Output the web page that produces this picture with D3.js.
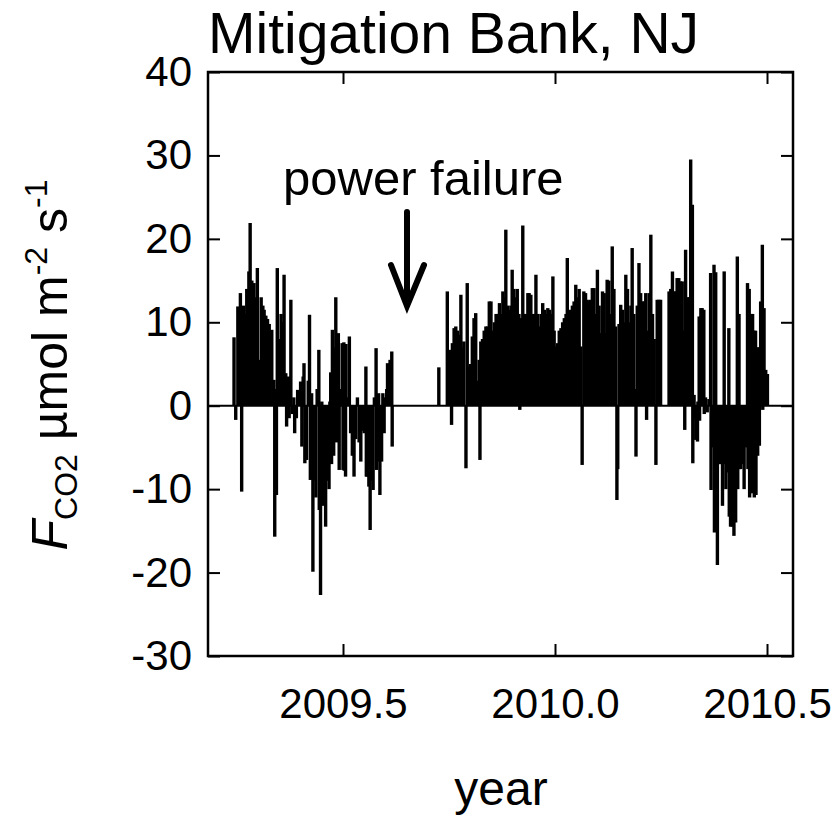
<!DOCTYPE html>
<html>
<head>
<meta charset="utf-8">
<script src="https://cdn.jsdelivr.net/npm/d3@7"></script>
<style>
  body { margin: 0; background: #fff; }
  svg text { font-family: "Liberation Sans", Arial, sans-serif; fill: #000; }
</style>
</head>
<body>
<svg id="chart" width="834" height="820"></svg>
<script>
// daily net CO2 flux, [decimal year, umol m-2 s-1]
var spring2009 = [
  [2009.243, 8.2], [2009.247, -1.7], [2009.252, 11.9], [2009.258, 13.5], [2009.261, -10.3],
  [2009.265, 12], [2009.269, 11], [2009.273, 14], [2009.278, 16.1], [2009.281, 21.9],
  [2009.285, 15], [2009.290, 14.7], [2009.294, 13], [2009.298, 16.5], [2009.303, 5.5],
  [2009.307, 13], [2009.311, 12], [2009.314, 11.5], [2009.318, 10.8], [2009.322, 10.4],
  [2009.326, 9.8], [2009.332, 9.1], [2009.337, 3.1], [2009.339, -15.7], [2009.342, 2],
  [2009.343, -10.7], [2009.345, 16.5], [2009.350, 8], [2009.354, 11], [2009.357, 10],
  [2009.361, 15.7], [2009.365, 3.9], [2009.367, -2.5], [2009.371, 3.5], [2009.373, -1.5],
  [2009.377, 12.7], [2009.380, -1], [2009.384, 1], [2009.386, -3.3], [2009.390, -1.5],
  [2009.393, 1.9], [2009.396, 1.5], [2009.400, 2.9], [2009.403, -4.9], [2009.406, 3.5],
  [2009.408, 5.1], [2009.410, -6.9], [2009.414, -6.5], [2009.418, 3], [2009.421, 10.9],
  [2009.423, -8.9], [2009.426, 1.5], [2009.429, -19.9], [2009.432, -9], [2009.436, -11],
  [2009.439, 2], [2009.443, 6.7], [2009.444, -12.5], [2009.447, -22.7]
];

var summer2009 = [
  [2009.450, 0.5], [2009.452, -12], [2009.456, -11], [2009.459, -14.5], [2009.463, -9],
  [2009.467, -10], [2009.469, 0.5], [2009.471, 4], [2009.473, -7], [2009.475, 9.1],
  [2009.478, -6], [2009.481, 7], [2009.483, 13], [2009.485, -4.4], [2009.489, 8.7],
  [2009.491, -7.7], [2009.495, 2], [2009.498, 7.5], [2009.500, -7.7], [2009.502, 7.6],
  [2009.503, -7.8], [2009.506, -8.5], [2009.507, 7.4], [2009.510, 1], [2009.515, 8.3],
  [2009.518, -3.3], [2009.522, -6], [2009.526, -8.5], [2009.530, -4], [2009.534, 1],
  [2009.538, -4.4], [2009.542, -6.7], [2009.546, -3], [2009.550, -3.3], [2009.554, 4.7],
  [2009.555, -8.5], [2009.557, -8.5], [2009.561, -9.7], [2009.564, -14.9], [2009.568, -9],
  [2009.571, -10.1], [2009.574, 1], [2009.578, 6.9], [2009.579, -7.7], [2009.582, -6.7],
  [2009.584, 1.5], [2009.587, -10.7], [2009.591, -6.7], [2009.594, 1.5], [2009.597, -3.3],
  [2009.600, 1], [2009.603, 2], [2009.605, 5.1], [2009.608, 1], [2009.611, 5.5],
  [2009.615, 6.5], [2009.616, -4.9]
];

var autumn2009 = [
  [2009.726, 4.6], [2009.746, 13.7], [2009.750, 4.7], [2009.754, 6.7], [2009.756, -2.3],
  [2009.758, 7.5], [2009.762, 9.3], [2009.766, 9.5], [2009.770, 9], [2009.774, 8.5],
  [2009.778, 13.3], [2009.781, 7], [2009.785, 7.7], [2009.790, -7.5], [2009.793, 14.7],
  [2009.797, 4.7], [2009.801, 5], [2009.805, 8.3], [2009.809, 10.5], [2009.813, 11.1],
  [2009.817, 3], [2009.821, 5.5], [2009.823, -6.5], [2009.825, 7.7], [2009.829, 8],
  [2009.833, 9], [2009.837, 9.5], [2009.841, 9.5], [2009.845, 12.5], [2009.849, 12.5],
  [2009.853, 9], [2009.857, 10], [2009.861, 11], [2009.865, 11], [2009.869, 12.3],
  [2009.873, 11], [2009.877, 13.7], [2009.880, 13], [2009.884, 21.1], [2009.888, 12],
  [2009.892, 11.5], [2009.896, 12], [2009.899, 16.3], [2009.903, 14], [2009.907, 13],
  [2009.911, 14], [2009.915, 11], [2009.917, -0.5]
];

var winter2010 = [
  [2009.920, 10.5], [2009.924, 21.6], [2009.928, 11], [2009.932, 11], [2009.936, 13.5],
  [2009.939, 13.5], [2009.943, 13.3], [2009.947, 11], [2009.951, 11], [2009.955, 15.7],
  [2009.959, 11], [2009.963, 9.5], [2009.967, 11], [2009.971, 12.3], [2009.975, 11.5],
  [2009.979, 11], [2009.983, 11.7], [2009.987, 11.5], [2009.991, 11], [2009.995, 15.5],
  [2009.998, 9], [2010.002, 7.1], [2010.006, 7.5], [2010.010, 9], [2010.014, 9.3],
  [2010.018, 10], [2010.022, 10.5], [2010.026, 11], [2010.029, 17.7], [2010.033, 10.5],
  [2010.037, 11.5], [2010.041, 12], [2010.045, 12.5], [2010.049, 14.5], [2010.053, 13],
  [2010.057, 14], [2010.061, 7.1], [2010.064, -7.1], [2010.068, 13.7], [2010.072, 13.5],
  [2010.076, 12.7], [2010.080, 12.5], [2010.084, 12.7], [2010.088, 14.1], [2010.092, 14.1],
  [2010.096, 11], [2010.100, 16.3], [2010.104, 12], [2010.108, 8.7], [2010.112, 13.7],
  [2010.116, 13.5], [2010.120, 8.7], [2010.123, 15.1], [2010.127, 15], [2010.131, 11],
  [2010.135, 19.1], [2010.139, 14], [2010.143, 9.5], [2010.146, -11.3], [2010.148, -7.6],
  [2010.151, 9.8], [2010.155, 12.1], [2010.159, 11.5], [2010.163, 10], [2010.167, 15.7],
  [2010.171, 14], [2010.175, 10], [2010.179, 12], [2010.182, 18.9], [2010.186, 11],
  [2010.190, 2], [2010.191, -6.1], [2010.194, 12], [2010.198, 17.1], [2010.202, 13.5],
  [2010.206, 12.5], [2010.210, 12.5], [2010.214, 13.5], [2010.216, -1.7], [2010.219, 9],
  [2010.222, 13.5], [2010.226, 20.5], [2010.230, 11], [2010.234, 8], [2010.238, -7.1],
  [2010.241, 12.7], [2010.245, 12.7], [2010.249, 12.7]
];

var spring2010 = [
  [2010.269, 13.7], [2010.273, 14], [2010.277, 16.1], [2010.281, 13.7], [2010.285, 13.7],
  [2010.288, 15.3], [2010.292, 15.3], [2010.296, 14.9], [2010.300, 14.9], [2010.304, 9],
  [2010.306, -2.9], [2010.308, 18.7], [2010.312, 13], [2010.316, 13], [2010.320, 29.5],
  [2010.324, 24.1], [2010.325, -6.9], [2010.328, 1.3], [2010.329, -1.5], [2010.332, -4.1],
  [2010.336, -4.3], [2010.337, 0.5], [2010.340, 10.7], [2010.341, -1.8], [2010.344, 11.7],
  [2010.347, 11.7], [2010.351, 11.5], [2010.352, -1], [2010.355, 1], [2010.359, -0.8],
  [2010.363, 0.8], [2010.367, 15.9], [2010.368, -10.1], [2010.371, -5], [2010.375, 16.9],
  [2010.376, -15.2], [2010.379, 16], [2010.383, -19.1], [2010.387, -7], [2010.391, -7],
  [2010.395, -12], [2010.399, 16.1], [2010.400, -7], [2010.403, -10], [2010.406, -8],
  [2010.410, 9.3], [2010.411, -13.3], [2010.414, -14.5], [2010.418, -14.5], [2010.422, -15.6],
  [2010.426, -14], [2010.430, 17.9], [2010.431, -10], [2010.434, 11], [2010.435, -7.6],
  [2010.438, -7.6], [2010.442, -7], [2010.446, -10], [2010.450, -5], [2010.454, 14.7],
  [2010.455, -7.6], [2010.458, 14], [2010.459, -11], [2010.462, 11], [2010.463, -10.5],
  [2010.466, 11], [2010.467, -7.3], [2010.469, 9], [2010.470, -11], [2010.473, 9],
  [2010.474, -10.7], [2010.477, 7], [2010.478, -6], [2010.481, 7], [2010.482, -4.8],
  [2010.485, 12.5], [2010.489, 19.3], [2010.490, -0.5], [2010.493, 11.7], [2010.497, 4.3],
  [2010.501, 3.8]
];

var xTicks = [2009.5, 2010.0, 2010.5];
var yTicks = [-30, -20, -10, 0, 10, 20, 30, 40];

var title = 'Mitigation Bank, NJ';
var note = 'power failure';
var xLabel = 'year';

var flux = [].concat(spring2009, summer2009, autumn2009, winter2010, spring2010);

var svg = d3.select('#chart');
var margin = { top: 72, right: 41, bottom: 164, left: 208 };
var width = 834 - margin.left - margin.right;
var height = 820 - margin.top - margin.bottom;

var x = d3.scaleLinear().domain([2009.1816, 2010.5613]).range([0, width]);
var y = d3.scaleLinear().domain([-30, 40]).range([height, 0]);

var g = svg.append('g')
  .attr('transform', 'translate(' + margin.left + ',' + margin.top + ')');

// needles from zero
g.append('g')
  .selectAll('line')
  .data(flux)
  .join('line')
  .attr('x1', (d) => x(d[0]))
  .attr('x2', (d) => x(d[0]))
  .attr('y1', y(0))
  .attr('y2', (d) => y(d[1]))
  .attr('stroke', '#000')
  .attr('stroke-width', 3.4);

// zero line
g.append('line')
  .attr('x1', 0).attr('x2', width)
  .attr('y1', y(0)).attr('y2', y(0))
  .attr('stroke', '#000')
  .attr('stroke-width', 2);

// axes, ticks pointing inwards on all sides
function styleAxis(sel, size) {
  sel.select('.domain').remove();
  sel.selectAll('.tick line').attr('stroke', '#000').attr('stroke-width', 2);
  sel.selectAll('.tick text')
    .attr('font-family', '"Liberation Sans", Arial, sans-serif')
    .attr('font-size', size)
    .attr('fill', '#000');
  sel.attr('font-family', null).attr('font-size', null);
}

g.append('g')
  .attr('transform', 'translate(0,' + height + ')')
  .call(d3.axisBottom(x).tickValues(xTicks).tickSize(-12).tickPadding(32)
    .tickFormat(d3.format('.1f')))
  .call(styleAxis, 42);

g.append('g')
  .call(d3.axisTop(x).tickValues(xTicks).tickSize(-12).tickFormat(''))
  .call(styleAxis, 42);

g.append('g')
  .call(d3.axisLeft(y).tickValues(yTicks).tickSize(-12).tickPadding(16)
    .tickFormat((d) => String(d)))
  .call(styleAxis, 42);

g.append('g')
  .attr('transform', 'translate(' + width + ',0)')
  .call(d3.axisRight(y).tickValues(yTicks).tickSize(-12).tickFormat(''))
  .call(styleAxis, 42);

// frame
g.append('rect')
  .attr('width', width)
  .attr('height', height)
  .attr('fill', 'none')
  .attr('stroke', '#000')
  .attr('stroke-width', 2.5);

// title
svg.append('text')
  .attr('x', 208)
  .attr('y', 53)
  .attr('font-size', 57)
  .text(title);

// annotation
svg.append('text')
  .attr('x', 283)
  .attr('y', 195)
  .attr('font-size', 49)
  .text(note);

svg.append('path')
  .attr('d', 'M407,212V305M391,265L407,306L424,265')
  .attr('fill', 'none')
  .attr('stroke', '#000')
  .attr('stroke-width', 6)
  .attr('stroke-linecap', 'round');

// x label
svg.append('text')
  .attr('x', 501)
  .attr('y', 805)
  .attr('text-anchor', 'middle')
  .attr('font-size', 48)
  .text(xLabel);

// y label: F_CO2 umol m^-2 s^-1
var yl = svg.append('text')
  .attr('transform', 'translate(67,365) rotate(-90)')
  .attr('text-anchor', 'middle')
  .attr('font-size', 50);

yl.append('tspan').attr('font-style', 'italic').text('F');
yl.append('tspan').attr('font-size', 32).attr('dy', 10).text('CO2');
yl.append('tspan').attr('dy', -10).text(' \u00b5mol m');
yl.append('tspan').attr('font-size', 32).attr('dy', -20).text('-2');
yl.append('tspan').attr('dy', 20).text(' s');
yl.append('tspan').attr('font-size', 32).attr('dy', -20).text('-1');
</script>
</body>
</html>
